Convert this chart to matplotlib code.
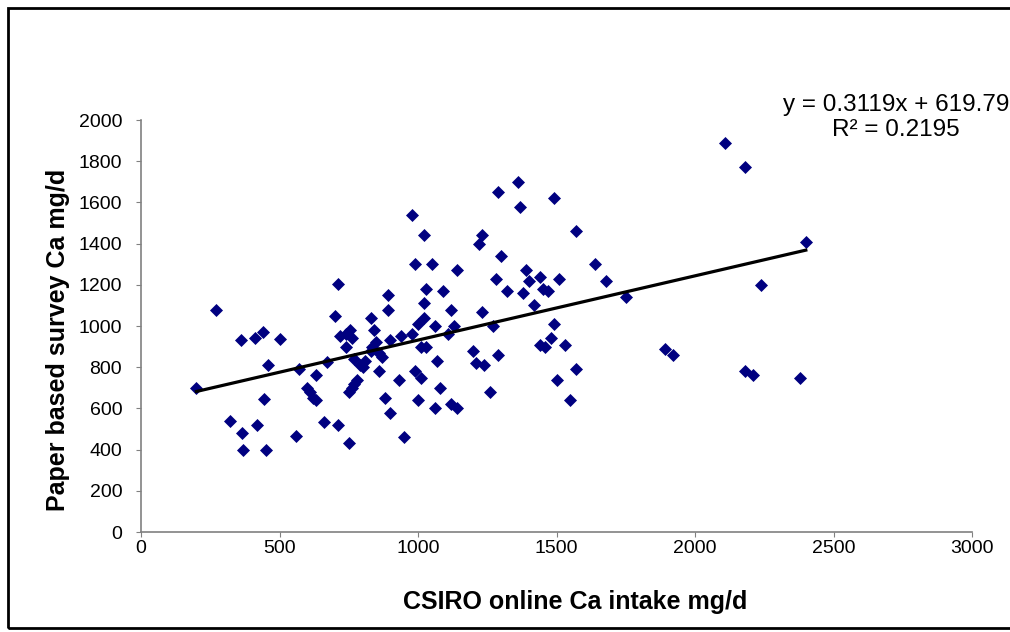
import numpy as np
import matplotlib.pyplot as plt
from matplotlib.patches import Rectangle

# CSIRO online Ca intake (mg/d) vs paper based survey (mg/d)
csiro = [200, 270, 320, 360, 365, 370, 410, 420, 440, 445, 450, 460, 500, 560, 570,
         600, 610, 620, 630, 630, 660, 670, 700, 710, 710, 720, 740, 740, 750, 750,
         755, 760, 760, 770, 770, 780, 790, 800, 810, 830, 830, 835, 840, 850, 860,
         860, 870, 880, 890, 890, 900, 900, 930, 940, 950, 980, 980, 990, 990, 1000,
         1000, 1010, 1010, 1020, 1020, 1020, 1030, 1030, 1050, 1060, 1060, 1070, 1080,
         1090, 1110, 1120, 1120, 1130, 1140, 1140, 1200, 1210, 1220, 1230, 1230, 1240,
         1260, 1270, 1280, 1290, 1290, 1300, 1320, 1360, 1370, 1380, 1390, 1400, 1420,
         1440, 1440, 1450, 1460, 1470, 1480, 1490, 1490, 1500, 1510, 1530, 1550, 1570,
         1570, 1640, 1680, 1750, 1890, 1920, 2110, 2180, 2180, 2210, 2240, 2380, 2400]
paper = [700, 1080, 540, 930, 480, 400, 940, 520, 970, 645, 400, 810, 935, 465, 790,
         700, 680, 650, 760, 640, 535, 825, 1050, 520, 1205, 950, 900, 960, 430, 680,
         980, 940, 700, 720, 840, 740, 810, 800, 830, 1040, 880, 900, 980, 920, 870,
         780, 850, 650, 1150, 1080, 930, 580, 740, 950, 460, 1540, 960, 780, 1300, 640,
         1010, 900, 750, 1040, 1440, 1110, 1180, 900, 1300, 600, 1000, 830, 700,
         1170, 960, 1080, 620, 1000, 1270, 600, 880, 820, 1400, 1440, 1070, 810,
         680, 1000, 1230, 860, 1650, 1340, 1170, 1700, 1580, 1160, 1270, 1220, 1100,
         1240, 910, 1180, 900, 1170, 940, 1620, 1010, 740, 1230, 910, 640, 1460,
         790, 1300, 1220, 1140, 890, 860, 1890, 1770, 780, 760, 1200, 750, 1410]

slope = 0.3119
intercept = 619.79

fig = plt.figure(figsize=(10.1, 6.32), dpi=100)
ax = fig.add_axes([0.1396, 0.1582, 0.8228, 0.6519])

ax.scatter(csiro, paper, marker='D', s=44, color='#000080', linewidths=0, zorder=3)

xfit = np.array([min(csiro), max(csiro)])
ax.plot(xfit, slope * xfit + intercept, color='black', lw=2.3, zorder=4)

ax.set_xlim(0, 3000)
ax.set_ylim(0, 2000)
ax.set_xticks(np.arange(0, 3001, 500))
ax.set_yticks(np.arange(0, 2001, 200))

for s in ['top', 'right']:
    ax.spines[s].set_visible(False)
for s in ['left', 'bottom']:
    ax.spines[s].set_color('#808080')
    ax.spines[s].set_linewidth(1.2)
ax.tick_params(direction='out', length=3.5, color='#808080', labelsize=14,
               labelcolor='black')
ax.tick_params(axis='x', pad=2.5)
ax.tick_params(axis='y', pad=10)
for lab in ax.get_xticklabels() + ax.get_yticklabels():
    lab.set_family('Liberation Sans')

ax.set_xlabel('CSIRO online Ca intake mg/d', fontsize=18, fontweight='bold',
              family='Liberation Sans')
ax.set_ylabel('Paper based survey Ca mg/d', fontsize=18, fontweight='bold',
              family='Liberation Sans')
ax.xaxis.set_label_coords(0.522, -0.14)
ax.yaxis.set_label_coords(-0.086, 0.466)

# trendline label, runs off the right edge like the original
fig.text(0.887, 0.814, 'y = 0.3119x + 619.79\nR\u00b2 = 0.2195', ha='center',
         va='center', fontsize=17.5, family='Liberation Sans', linespacing=1.18)

fig.patches.append(Rectangle((8 / 1010, 4 / 632), 1.1, 620 / 632,
                             transform=fig.transFigure, fill=False,
                             edgecolor='black', lw=2))

fig.savefig('out.png', dpi=100)
